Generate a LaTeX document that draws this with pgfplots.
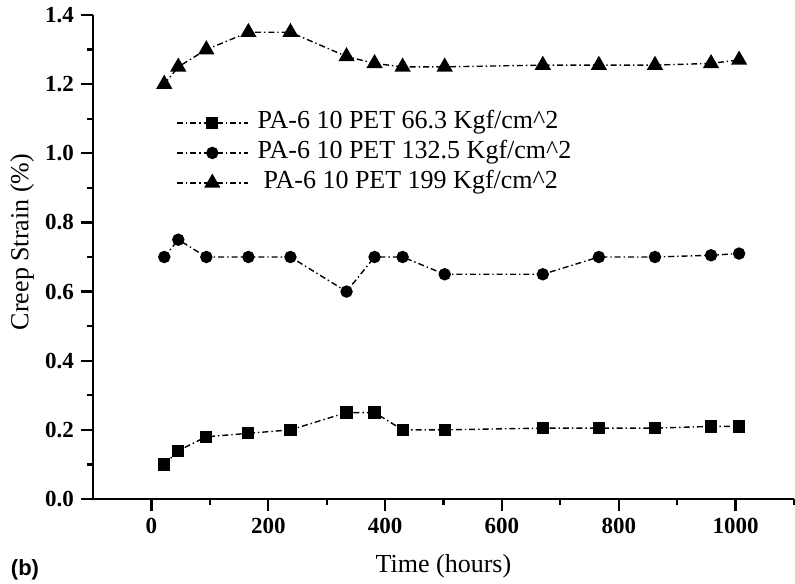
\documentclass[border=0pt]{standalone}
\usepackage{pgfplots}
\pgfplotsset{compat=1.18}
\usepackage{fontspec}
\setmainfont{Liberation Serif}
\newfontfamily\labelsans{Liberation Sans}
\usetikzlibrary{calc}

\begin{document}
\begin{tikzpicture}
\begin{axis}[
  name=ax,
  clip=false,
  scale only axis, width=350.5pt, height=242pt,
  xmin=-100, xmax=1100, ymin=0, ymax=1.4,
  axis lines=left,
  axis line style={-, line width=1.2pt},
  xtick={0,200,...,1000},
  minor xtick={100,300,...,1100},
  ytick={0,0.2,0.4,0.6,0.8,1.0,1.2,1.4},
  minor ytick={0.1,0.3,0.5,0.7,0.9,1.1,1.3},
  tick align=outside,
  major tick length=6pt, minor tick length=3pt,
  tick style={black, line width=1.1pt},
  /pgf/number format/assume math mode=true,
  ticklabel style={font=\fontsize{11.5}{13}\selectfont\bfseries},
  yticklabel style={/pgf/number format/.cd, fixed, fixed zerofill, precision=1},
  xticklabel style={/pgf/number format/.cd, fixed, set thousands separator={}},
  xlabel={Time (hours)},
  ylabel={Creep Strain (\%)},
  label style={font=\fontsize{13}{15}\selectfont},
  xlabel style={at={(axis description cs:0.5,-0.138)}, anchor=center},
  ylabel style={at={(axis description cs:-0.101,0.531)}, anchor=center},
  legend style={at={(axis description cs:0.118,0.715)}, anchor=west,
    draw=none, fill=none, inner sep=0pt, row sep=1pt,
    nodes={font=\fontsize{13}{15}\selectfont, inner sep=1pt, text height=9pt, text depth=3pt}},
  legend cell align=left,
  legend image code/.code={
    \draw[mark repeat=2, mark phase=2] plot coordinates {(0pt,0pt) (17.75pt,0pt) (35.5pt,0pt)};},
  every axis plot/.append style={black, line width=0.7pt,
    dash pattern=on 3pt off 1.5pt on 0.7pt off 1.5pt},
]
\addplot[mark=square*, mark size=2.7pt, mark options={solid, fill=black}] coordinates {
(22,0.10) (46,0.14) (94,0.18) (166,0.19) (238,0.20) (334,0.25) (382,0.25)
(430,0.20) (502,0.20) (670,0.205) (766,0.205) (862,0.205) (958,0.21) (1006,0.21)};
\addlegendentry{\hspace{3.5pt}PA-6 10 PET 66.3 Kgf/cm\^{}2}
\addplot[mark=*, mark size=2.75pt, mark options={solid, fill=black}] coordinates {
(22,0.70) (46,0.75) (94,0.70) (166,0.70) (238,0.70) (334,0.60) (382,0.70)
(430,0.70) (502,0.65) (670,0.65) (766,0.70) (862,0.70) (958,0.705) (1006,0.71)};
\addlegendentry{\hspace{3.5pt}PA-6 10 PET 132.5 Kgf/cm\^{}2}
\addplot[mark=triangle*, mark size=4pt, mark options={solid, fill=black}] coordinates {
(22,1.20) (46,1.25) (94,1.30) (166,1.35) (238,1.35) (334,1.28) (382,1.26)
(430,1.25) (502,1.25) (670,1.255) (766,1.255) (862,1.255) (958,1.26) (1006,1.27)};
\addlegendentry{\hspace{6.5pt}PA-6 10 PET 199 Kgf/cm\^{}2}
\node[font=\labelsans\fontsize{11}{13}\selectfont\bfseries] at (axis description cs:-0.097,-0.147) {(b)};
\end{axis}
\pgfresetboundingbox
\useasboundingbox ($(ax.south west)+(-46.5pt,-42pt)$) rectangle ($(ax.south west)+(351pt,249.5pt)$);
\end{tikzpicture}
\end{document}
